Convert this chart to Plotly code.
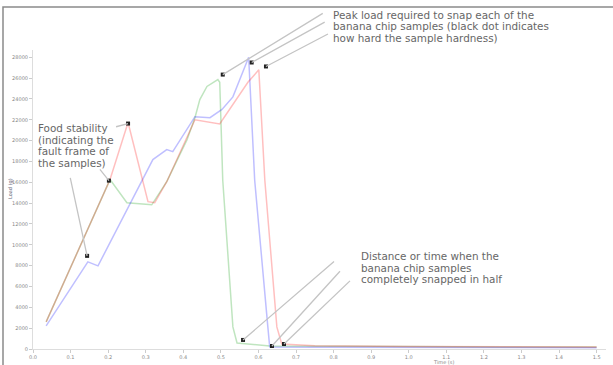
import plotly.graph_objects as go

# ---- data (x in s, load in g) ----
red_x = [0.035, 0.12, 0.205, 0.253, 0.290, 0.306, 0.324, 0.356, 0.431, 0.471, 0.497, 0.572, 0.601, 0.617, 0.649, 0.662, 0.75, 1.0, 1.25, 1.5]
red_y = [2600, 9400, 16260, 21740, 16260, 14140, 14040, 16060, 22000, 21800, 21600, 25600, 26800, 16200, 2120, 480, 300, 240, 200, 200]

blue_x = [0.035, 0.146, 0.173, 0.258, 0.293, 0.319, 0.356, 0.372, 0.431, 0.471, 0.503, 0.532, 0.574, 0.590, 0.625, 0.630, 0.75, 1.0, 1.25, 1.5]
blue_y = [2220, 8360, 7980, 13940, 16260, 18180, 19140, 18940, 22300, 22200, 23000, 24200, 28000, 16200, 2120, 200, 160, 140, 120, 120]

green_x = [0.035, 0.12, 0.205, 0.250, 0.316, 0.356, 0.410, 0.431, 0.444, 0.463, 0.492, 0.497, 0.505, 0.532, 0.543, 0.630, 0.75, 1.0, 1.25, 1.5]
green_y = [2600, 9420, 16260, 14040, 13840, 16060, 20100, 22200, 23940, 25200, 25860, 25600, 16200, 2120, 580, 280, 280, 240, 200, 200]

x_ticks = [i / 10 for i in range(16)]
y_ticks = [i * 2000 for i in range(15)]

# annotation marker points
peak_mx = [0.505, 0.582, 0.620]
peak_my = [26340, 27500, 27120]
left_mx = [0.253, 0.202, 0.144]
left_my = [21640, 16160, 8940]
snap_mx = [0.559, 0.636, 0.668]
snap_my = [870, 290, 480]

peak_lines = ["Peak load required to snap each of the",
              "banana chip samples (black dot indicates",
              "how hard the sample hardness)"]
left_lines = ["Food stability", "(indicating the", "fault frame of", "the samples)"]
snap_lines = ["Distance or time when the", "banana chip samples", "completely snapped in half"]

W, H = 613, 365
L, R, T, B = 33, 7, 50, 16
pw, ph = W - L - R, H - T - B


def px(x):
    return (x - L) / pw


def py(y):
    return (H - B - y) / ph


fig = go.Figure()
fig.add_trace(go.Scatter(x=green_x, y=green_y, mode="lines", line=dict(color="rgba(0,150,0,0.25)", width=1.5)))
fig.add_trace(go.Scatter(x=blue_x, y=blue_y, mode="lines", line=dict(color="rgba(0,0,255,0.25)", width=1.5)))
fig.add_trace(go.Scatter(x=red_x, y=red_y, mode="lines", line=dict(color="rgba(255,0,0,0.25)", width=1.5)))

annots = []
# leader lines (tails in pixel offsets)
peak_tail = [(103, -63), (76, -42), (65, -34)]
left_tail = [(-15, 4), (-12, -15), (-19, -88)]
snap_tail = [(94, -81), (71, -78), (69, -66)]
for mx, my, tails in [(peak_mx, peak_my, peak_tail), (left_mx, left_my, left_tail), (snap_mx, snap_my, snap_tail)]:
    for x, y, (ax, ay) in zip(mx, my, tails):
        annots.append(dict(x=x, y=y, xref="x", yref="y", text=" ", showarrow=True,
                           arrowhead=0, arrowwidth=1.3, arrowcolor="#c4c4c4", ax=ax, ay=ay,
                           standoff=0, startstandoff=0))

fig.add_trace(go.Scatter(x=peak_mx + left_mx + snap_mx, y=peak_my + left_my + snap_my, mode="markers",
                         marker=dict(symbol="square", size=4, color="#222")))

fnt = dict(family="DejaVu Sans, Verdana, sans-serif", size=10.4, color="#666")
for lines, x0, y0 in [(peak_lines, 331, 15), (left_lines, 36, 128), (snap_lines, 359, 256)]:
    for i, t in enumerate(lines):
        annots.append(dict(x=px(x0), y=py(y0 + 11.5 * i), xref="paper", yref="paper", text=t,
                           showarrow=False, xanchor="left", yanchor="middle", align="left", font=fnt))

small = dict(family="DejaVu Sans, Verdana, sans-serif", size=5, color="#888")
annots.append(dict(x=px(443), y=py(362), xref="paper", yref="paper", text="Time (s)", showarrow=False,
                   xanchor="center", yanchor="middle", font=small))
annots.append(dict(x=px(10), y=py(189), xref="paper", yref="paper", text="Load (g)", showarrow=False,
                   textangle=-90, xanchor="center", yanchor="middle",
                   font=dict(family="DejaVu Sans, Verdana, sans-serif", size=5, color="#667")))

fig.update_layout(
    width=W, height=H, margin=dict(l=L, r=R, t=T, b=B),
    paper_bgcolor="white", plot_bgcolor="white", showlegend=False,
    annotations=annots,
    shapes=[dict(type="path", xref="paper", yref="paper",
                 path=f"M {px(3)},{py(370)} L {px(3)},{py(7)} L {px(620)},{py(7)}",
                 line=dict(color="#8a8a8a", width=1.5))],
    xaxis=dict(range=[0, 1.525], tickvals=x_ticks, tickformat=".1f", showgrid=False, zeroline=False,
               showline=True, linecolor="#dddddd", linewidth=1, ticks="outside", ticklen=3,
               tickcolor="#cccccc", tickfont=small, automargin=False),
    yaxis=dict(range=[0, 28700], tickvals=y_ticks, tickformat="d", showgrid=False, zeroline=False,
               showline=True, linecolor="#dddddd", linewidth=1, ticks="outside", ticklen=3,
               tickcolor="#cccccc", tickfont=small, automargin=False),
)
fig.write_html("out.html", config={"displayModeBar": False},
               post_script="document.body.style.margin='0px';")
